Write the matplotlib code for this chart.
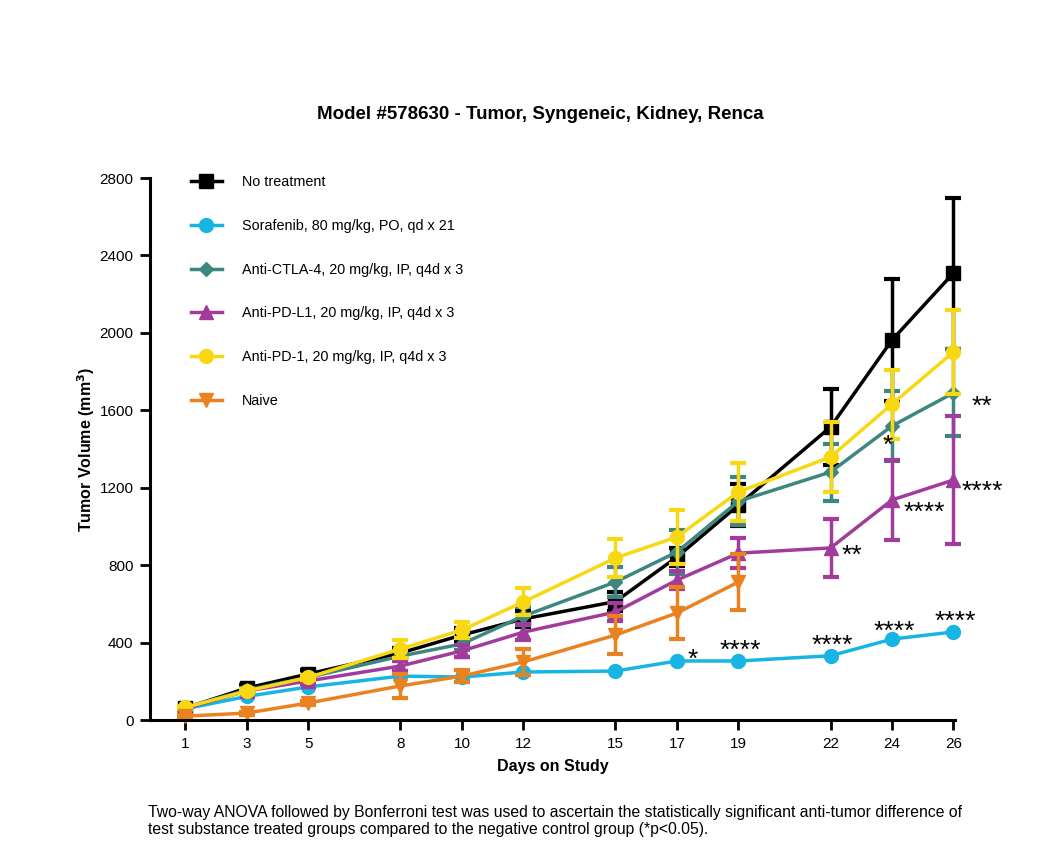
import matplotlib.pyplot as plt

plt.rcParams['font.family'] = ['Liberation Sans', 'DejaVu Sans']

days = [1, 3, 5, 8, 10, 12, 15, 17, 19, 22, 24, 26]
naive_days = [1, 3, 5, 8, 10, 12, 15, 17, 19]

no_treatment = [62, 165, 238, 346, 439, 522, 612, 842, 1110, 1514, 1963, 2309]
no_treatment_err = [10, 15, 18, 25, 35, 40, 50, 45, 110, 195, 315, 390]

sorafenib = [58, 122, 171, 227, 222, 248, 253, 305, 305, 332, 418, 455]

ctla4 = [65, 155, 220, 330, 393, 537, 713, 868, 1130, 1281, 1519, 1690]
ctla4_err = [8, 12, 15, 25, 30, 45, 80, 113, 125, 147, 181, 225]

pdl1 = [60, 150, 202, 279, 357, 454, 558, 723, 862, 889, 1137, 1240]
pdl1_err = [8, 12, 15, 25, 30, 40, 45, 45, 78, 150, 205, 330]

pd1 = [65, 150, 220, 367, 465, 610, 837, 946, 1178, 1359, 1632, 1901]
pd1_err = [8, 12, 15, 47, 40, 70, 98, 140, 150, 180, 178, 217]

naive = [20, 36, 88, 176, 227, 300, 439, 553, 713]
naive_err = [5, 8, 12, 60, 30, 65, 98, 135, 145]

series = [
    ('No treatment', days, no_treatment, no_treatment_err, '#000000', 's', 10),
    ('Sorafenib, 80 mg/kg, PO, qd x 21', days, sorafenib, None, '#17b5e3', 'o', 10),
    ('Anti-CTLA-4, 20 mg/kg, IP, q4d x 3', days, ctla4, ctla4_err, '#3e8780', 'D', 7.5),
    ('Anti-PD-L1, 20 mg/kg, IP, q4d x 3', days, pdl1, pdl1_err, '#a23c9c', '^', 10),
    ('Anti-PD-1, 20 mg/kg, IP, q4d x 3', days, pd1, pd1_err, '#f8d812', 'o', 10),
    ('Naive', naive_days, naive, naive_err, '#ea8220', 'v', 10),
]

# significance stars, centre of each label in data coordinates (day, volume)
stars = [
    (17.5, 351, '*'),
    (19.07, 398, '****'),
    (22.06, 424, '****'),
    (24.08, 496, '****'),
    (26.07, 548, '****'),
    (26.94, 1658, '**'),
    (23.85, 1457, '*'),
    (25.06, 1111, '****'),
    (26.94, 1219, '****'),
    (22.68, 889, '**'),
]

fig = plt.figure(figsize=(10.5, 8.65), dpi=100)
ax = fig.add_axes([0.1429, 0.1676, 0.7666, 0.6266])

for label, x, y, err, color, marker, ms in series:
    if err is not None:
        ax.errorbar(x, y, yerr=err, fmt='none', ecolor=color, elinewidth=2.5,
                    capsize=6, capthick=3, clip_on=False)
    ax.plot(x, y, color=color, marker=marker, markersize=ms, linewidth=2.5,
            label=label, clip_on=False)

# the asterisk sits high in the glyph box, so shift down from the baseline
star_fs = 19
for d, v, txt in stars:
    ax.annotate(txt, (d, v), xytext=(0, -0.57 * star_fs), textcoords='offset points',
                fontsize=star_fs, ha='center', va='baseline', annotation_clip=False)

ax.set_xlim(-0.15, 26.05)
ax.set_ylim(0, 2800)
ax.set_xticks(days)
ax.set_yticks(range(0, 2801, 400))
ax.tick_params(labelsize=11, width=2, length=7, pad=5)
for s in ['top', 'right']:
    ax.spines[s].set_visible(False)
for s in ['left', 'bottom']:
    ax.spines[s].set_linewidth(2.2)

ax.set_xlabel('Days on Study', fontsize=11.5, fontweight='bold', labelpad=6)
ax.set_ylabel('Tumor Volume (mm$^\\mathbf{3}$)', fontsize=11.5, fontweight='bold', labelpad=2)
fig.text(0.515, 0.868, 'Model #578630 - Tumor, Syngeneic, Kidney, Renca',
         ha='center', va='center', fontsize=13.5, fontweight='bold')

leg = ax.legend(loc='upper left', bbox_to_anchor=(0.035, 1.03), frameon=False,
                fontsize=10.4, labelspacing=2.07, handlelength=2.1, handletextpad=1.4)

fig.text(0.141, 0.051,
         'Two-way ANOVA followed by Bonferroni test was used to ascertain the statistically significant anti-tumor difference of\n'
         'test substance treated groups compared to the negative control group (*p<0.05).',
         fontsize=11.3, ha='left', va='center', linespacing=1.15)

fig.savefig('out.png', dpi=100)
